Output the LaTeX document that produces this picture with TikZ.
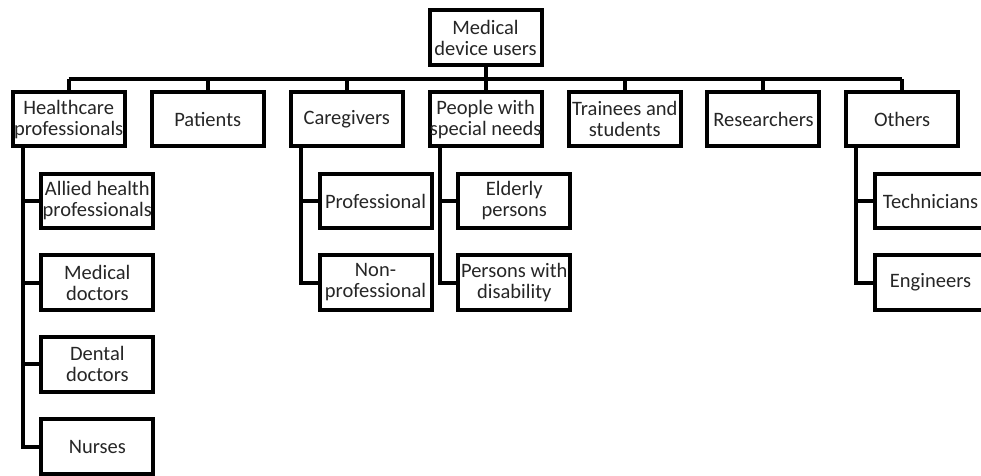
\documentclass[tikz,border=0pt]{standalone}
\usepackage{fontspec}
\setmainfont{Carlito}
\begin{document}
\begin{tikzpicture}[x=1pt,y=-1pt,
  box/.style={draw, line width=4pt, minimum width=112pt, minimum height=54.5pt,
    align=center, inner sep=0pt, text=black!85, font=\fontsize{20.5}{21}\selectfont},
  conn/.style={line width=4pt}]
\clip (0,0) rectangle (981,475);
\fill[white] (0,0) rectangle (981,475);
% root
\node[box] (root) at (485.5,37.5) {Medical\\device users};
% level 1
\node[box] (hc)  at (68.7,119.2)  {Healthcare\\professionals};
\node[box] (pat) at (207.7,119.2) {Patients};
\node[box] (cg)  at (346.7,119.2) {Caregivers};
\node[box] (sn)  at (485.6,119.2) {People with\\special needs};
\node[box] (tr)  at (624.8,119.2) {Trainees and\\students};
\node[box] (res) at (763.4,119.2) {Researchers};
\node[box] (oth) at (902.1,119.2) {Others};
% level 2
\node[box] (al)  at (97.3,201)   {Allied health\\professionals};
\node[box] (md)  at (97.3,282.5) {Medical\\doctors};
\node[box] (dd)  at (97.3,364.3) {Dental\\doctors};
\node[box] (nu)  at (97.3,446.5) {Nurses};
\node[box] (pro) at (375.5,201)   {Professional};
\node[box] (np)  at (375.5,282.5) {Non-\\professional};
\node[box] (el)  at (514.3,201)   {Elderly\\persons};
\node[box] (dis) at (514.3,282.5) {Persons with\\disability};
\node[box] (tec) at (930.5,201)   {Technicians};
\node[box] (eng) at (930.5,282.5) {Engineers};
% bus
\coordinate (bus) at (485.5,79);
\draw[conn] (root.south) -- (bus);
\draw[conn] (hc.north |- bus) -- (oth.north |- bus);
\foreach \n in {hc,pat,cg,sn,tr,res,oth}{
  \draw[conn] (\n.north |- bus) -- (\n.north);
}
% trunks
\coordinate (hct) at ([xshift=12pt]hc.south west);
\coordinate (cgt) at ([xshift=12pt]cg.south west);
\coordinate (snt) at ([xshift=12pt]sn.south west);
\coordinate (otht) at ([xshift=12pt]oth.south west);
\draw[conn] (hct) |- (nu.west);
\foreach \c in {al,md,dd}{ \draw[conn] (hct |- \c.west) -- (\c.west); }
\draw[conn] (cgt) |- (np.west);
\draw[conn] (cgt |- pro.west) -- (pro.west);
\draw[conn] (snt) |- (dis.west);
\draw[conn] (snt |- el.west) -- (el.west);
\draw[conn] (otht) |- (eng.west);
\draw[conn] (otht |- tec.west) -- (tec.west);
\end{tikzpicture}
\end{document}
